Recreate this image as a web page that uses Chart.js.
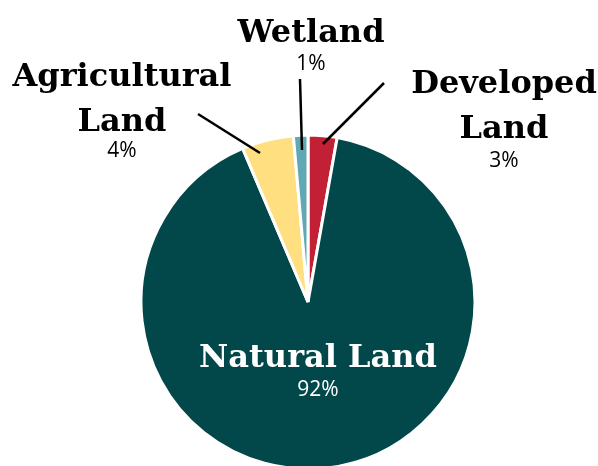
<!DOCTYPE html>
<html>
<head>
<meta charset="utf-8">
<script src="https://cdn.jsdelivr.net/npm/chart.js@4"></script>
<style>
  html, body { margin: 0; padding: 0; background: #fff; overflow: hidden; }
  #chartCanvas { display: block; }
</style>
</head>
<body>
<canvas id="chartCanvas" width="598" height="470"></canvas>
<script>
// Slice order runs clockwise from 12 o'clock
const categories = ['Developed Land', 'Natural Land', 'Agricultural Land', 'Wetland'];
// Slice sizes (share of the circle)
const shares = [2.8, 90.8, 5.0, 1.4];
// Printed percentage labels
const percentLabels = ['3%', '92%', '4%', '1%'];
const sliceColors = ['#C22034', '#02474A', '#FFDF80', '#60A9B4'];

// Where each label block sits, keyed by category index
const labelSpots = [
    { lines: ['Developed', 'Land'], x: 504, y: [93, 138], pctY: 167, color: '#000' },
    { lines: ['Natural Land'], x: 318, y: [367], pctY: 396, color: '#fff' },
    { lines: ['Agricultural', 'Land'], x: 122, y: [86, 131], pctY: 157, color: '#000' },
    { lines: ['Wetland'], x: 311, y: [42], pctY: 70, color: '#000' }
];

// Leader lines from label to slice
const leaders = [
    [384, 83, 323, 144],
    null,
    [198, 114, 260, 153],
    [300, 79, 302, 150]
];

const labelPlugin = {
    id: 'labelPlugin',
    afterDraw: function(chart) {
        const ctx = chart.ctx;
        ctx.save();

        ctx.strokeStyle = '#000';
        ctx.lineWidth = 2.5;
        leaders.forEach(function(l) {
            if (!l) return;
            ctx.beginPath();
            ctx.moveTo(l[0], l[1]);
            ctx.lineTo(l[2], l[3]);
            ctx.stroke();
        });

        ctx.textAlign = 'center';
        ctx.textBaseline = 'alphabetic';
        labelSpots.forEach(function(spot, i) {
            ctx.fillStyle = spot.color;
            ctx.font = 'bold 32px "DejaVu Serif"';
            spot.lines.forEach(function(line, j) {
                ctx.fillText(line, spot.x, spot.y[j]);
            });
            ctx.font = '21px "Open Sans"';
            ctx.fillText(percentLabels[i], spot.x, spot.pctY);
        });

        ctx.restore();
    }
};

window.onload = function() {
    const ctx = document.getElementById('chartCanvas').getContext('2d');

    new Chart(ctx, {
        type: 'pie',
        data: {
            labels: categories,
            datasets: [{
                data: shares,
                backgroundColor: sliceColors,
                borderColor: '#ffffff',
                borderWidth: 3
            }]
        },
        options: {
            responsive: false,
            animation: false,
            radius: 167,
            layout: {
                padding: { left: 118, right: 100, top: 136, bottom: 2 }
            },
            plugins: {
                legend: { display: false },
                tooltip: { enabled: false }
            }
        },
        plugins: [labelPlugin]
    });
};
</script>
</body>
</html>
